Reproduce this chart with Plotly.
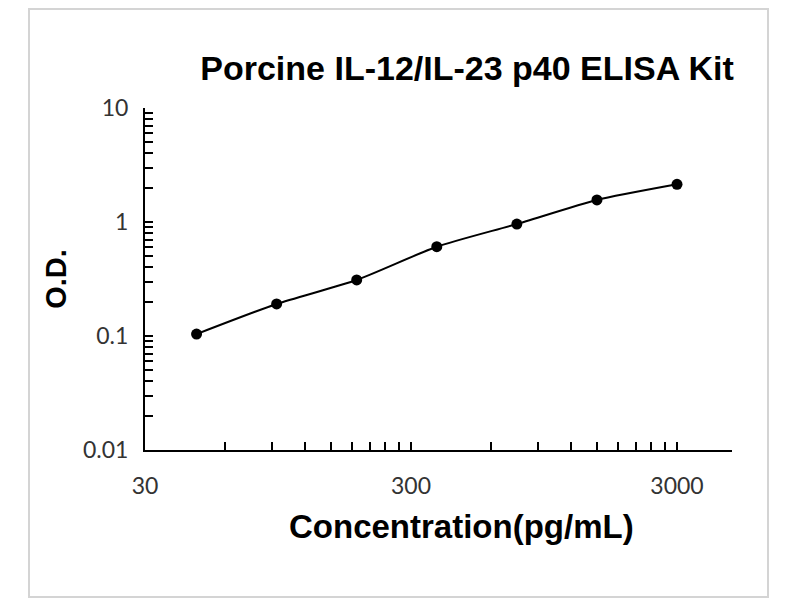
import math
import plotly.graph_objects as go

# Data
concentration = [46.875, 93.75, 187.5, 375, 750, 1500, 3000]
od = [0.104, 0.191, 0.310, 0.607, 0.96, 1.56, 2.14]

x_tickvals = [30, 300, 3000]
x_ticktext = ["30", "300", "3000"]
x_minor = [60, 90, 120, 150, 180, 210, 240, 270, 600, 900, 1200, 1500, 1800, 2100, 2400, 2700]
y_tickvals = [0.01, 0.1, 1, 10]
y_ticktext = ["0.01", "0.1", "1", "10"]
y_minor = [m * d for d in (0.01, 0.1, 1) for m in range(2, 10)]

title_text = "Porcine IL-12/IL-23 p40 ELISA Kit"
x_title = "Concentration(pg/mL)"
y_title = "O.D."

# layout geometry (pixels, page coordinates; page has an 8px body margin)
OFF = 8
W, H = 800 - OFF, 600 - OFF
L, R, T, B = 145 - OFF, 732 - OFF, 108 - OFF, 450 - OFF
x_decade = 266
x_range = [math.log10(30), math.log10(30) + (R - L) / x_decade]


def px_x(p):
    return (p - OFF - L) / (R - L)


def px_y(p):
    return (B - (p - OFF)) / (B - T)


fig = go.Figure()
fig.add_trace(go.Scatter(
    x=concentration, y=od, mode="lines+markers",
    line=dict(color="black", width=2, shape="spline", smoothing=0.6),
    marker=dict(color="black", size=11),
    showlegend=False,
))

tick_font = dict(family="Lato", size=23, color="#333333")
bold_font = "Liberation Sans"

fig.update_layout(
    width=W, height=H,
    margin=dict(l=L, r=W - R, t=T, b=H - B, autoexpand=False),
    paper_bgcolor="white", plot_bgcolor="white",
    title=dict(text=title_text, x=px_x(467), xref="paper", xanchor="center",
               y=1 - (68 - OFF) / H, yref="container", yanchor="middle",
               font=dict(family=bold_font, size=34, color="black", weight="bold")),
    shapes=[dict(type="rect", xref="paper", yref="paper",
                 x0=px_x(29), x1=px_x(768), y0=px_y(597), y1=px_y(OFF + 1),
                 line=dict(color="#d4d4d4", width=2), layer="below")],
    annotations=[dict(text=x_title, xref="paper", yref="paper",
                      x=px_x(461), y=px_y(526), xanchor="center", yanchor="middle",
                      showarrow=False,
                      font=dict(family=bold_font, size=33, color="black", weight="bold"))],
)

fig.update_xaxes(
    type="log", range=x_range, automargin=False,
    tickmode="array", tickvals=x_tickvals, ticktext=x_ticktext,
    ticks="inside", ticklen=8, tickwidth=2, tickcolor="black",
    showline=True, linecolor="black", linewidth=2,
    showgrid=False, zeroline=False,
    tickfont=tick_font, ticklabelstandoff=14,
    minor=dict(tickmode="array", tickvals=x_minor, ticks="inside", ticklen=8,
               tickwidth=2, tickcolor="black", showgrid=False),
)
fig.update_yaxes(
    type="log", range=[-2, 1], automargin=False,
    tickmode="array", tickvals=y_tickvals, ticktext=y_ticktext,
    ticks="inside", ticklen=8, tickwidth=2, tickcolor="black",
    showline=True, linecolor="black", linewidth=2,
    showgrid=False, zeroline=False,
    tickfont=tick_font, ticklabelstandoff=10,
    minor=dict(tickmode="array", tickvals=y_minor, ticks="inside", ticklen=8,
               tickwidth=2, tickcolor="black", showgrid=False),
    title=dict(text=y_title, standoff=8,
               font=dict(family=bold_font, size=29, color="black", weight="bold")),
)

fig.write_html("out.html")
